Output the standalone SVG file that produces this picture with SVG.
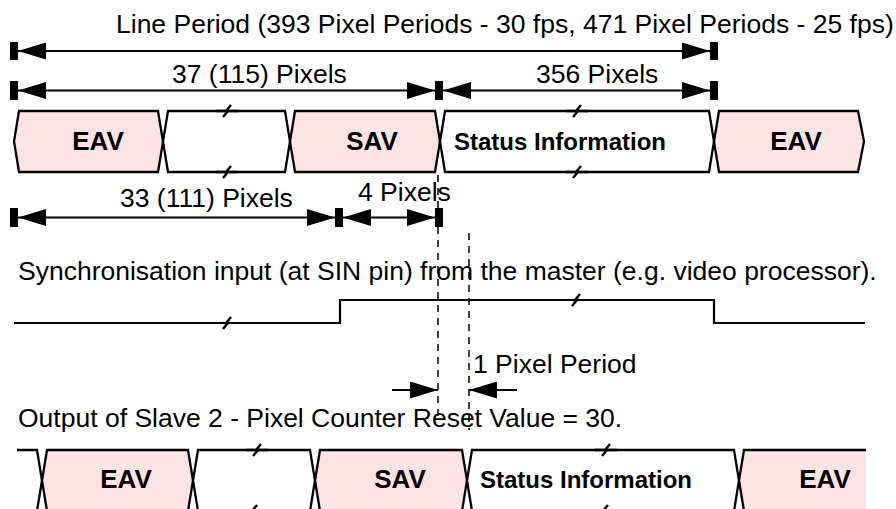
<svg xmlns="http://www.w3.org/2000/svg" width="896" height="509" viewBox="0 0 896 509">
<defs>
<style>
.t{font-family:"Liberation Sans",Arial,sans-serif;font-size:26.5px;fill:#000}
.b{font-family:"Liberation Sans",Arial,sans-serif;font-weight:bold;font-size:26px;fill:#000}
.bs{font-family:"Liberation Sans",Arial,sans-serif;font-weight:bold;font-size:24px;fill:#000}
.pk{fill:#fde4e4;stroke:#000;stroke-width:2.3;stroke-linejoin:miter}
.wh{fill:#fff;stroke:#000;stroke-width:2.3;stroke-linejoin:miter}
.ln{fill:none;stroke:#000;stroke-width:2.3}
.dim{fill:none;stroke:#000;stroke-width:2;marker-start:url(#ah);marker-end:url(#ah)}
.one{fill:none;stroke:#000;stroke-width:2;marker-end:url(#ah)}
.dash{fill:none;stroke:#000;stroke-width:1.5;stroke-dasharray:7 6}
.wave{fill:none;stroke:#000;stroke-width:2.2}
.brk{fill:none;stroke:#000;stroke-width:2.4;stroke-linejoin:miter}
.bar{fill:#000}
</style>
<marker id="ah" viewBox="0 0 28 17" refX="28" refY="8.5" markerWidth="28" markerHeight="17" markerUnits="userSpaceOnUse" orient="auto-start-reverse">
<path d="M0,0 L28,8.5 L0,17 Z" fill="#000"/>
</marker>
</defs>
<rect width="896" height="509" fill="#fff"/>

<g id="top-row">
<g id="top-eav1"><polygon class="pk" points="19,111 158,111 163,141.5 158,172 19,172 14,141.5"/><text class="b" x="98" y="150" text-anchor="middle">EAV</text></g>
<g id="top-blank"><polygon class="wh" points="168,111 285,111 290,141.5 285,172 168,172 163,141.5"/></g>
<g id="top-sav"><polygon class="pk" points="295,111 435,111 440,141.5 435,172 295,172 290,141.5"/><text class="b" x="372" y="150" text-anchor="middle">SAV</text></g>
<g id="top-status"><polygon class="wh" points="445,111 709,111 714,141.5 709,172 445,172 440,141.5"/><text class="bs" x="454" y="150">Status Information</text></g>
<g id="top-eav2"><polygon class="pk" points="719,111 858,111 864,141.5 858,172 719,172 714,141.5"/><text class="b" x="796" y="150" text-anchor="middle">EAV</text></g>
<g id="top-breaks">
<path class="brk" d="M216,111 H225 M223,117 L228,111 L226,111 L231,105 M229,111 H238"/>
<path class="brk" d="M216,172 H225 M223,178 L228,172 L226,172 L231,166 M229,172 H238"/>
<path class="brk" d="M566,111 H575 M573,117 L578,111 L576,111 L581,105 M579,111 H588"/>
<path class="brk" d="M566,172 H575 M573,178 L578,172 L576,172 L581,166 M579,172 H588"/>
</g>
</g>

<g id="bottom-row">
<g id="bot-stub"><path class="ln" d="M17,450 H37 L42,480.5 L37,511 H17"/></g>
<g id="bot-eav1"><polygon class="pk" points="47,450 188,450 193,480.5 188,511 47,511 42,480.5"/><text class="b" x="126" y="488" text-anchor="middle">EAV</text></g>
<g id="bot-blank"><polygon class="wh" points="198,450 310,450 315,480.5 310,511 198,511 193,480.5"/></g>
<g id="bot-sav"><polygon class="pk" points="320,450 462,450 467,480.5 462,511 320,511 315,480.5"/><text class="b" x="400" y="488" text-anchor="middle">SAV</text></g>
<g id="bot-status"><polygon class="wh" points="472,450 734,450 739,480.5 734,511 472,511 467,480.5"/><text class="bs" x="480" y="488">Status Information</text></g>
<g id="bot-eav2"><path d="M744,450 H866 V511 H744 L739,480.5 Z" fill="#fde4e4"/><path class="ln" d="M866,450 H744 L739,480.5 L744,511 H866"/><text class="b" x="825" y="488" text-anchor="middle">EAV</text></g>
<g id="bot-breaks">
<path class="brk" d="M246,450 H255 M253,456 L258,450 L256,450 L261,444 M259,450 H268"/>
<path class="brk" d="M242,511 H251 M249,517 L254,511 L252,511 L257,505 M255,511 H264"/>
<path class="brk" d="M595,450 H604 M602,456 L607,450 L605,450 L610,444 M608,450 H617"/>
<path class="brk" d="M593,511 H602 M600,517 L605,511 L603,511 L608,505 M606,511 H615"/>
</g>
</g>

<g id="labels">
<text class="t" x="116" y="33">Line Period (393 Pixel Periods - 30 fps, 471 Pixel Periods - 25 fps)</text>
<text class="t" x="172" y="83">37 (115) Pixels</text>
<text class="t" x="536" y="83">356 Pixels</text>
<text class="t" x="120" y="207">33 (111) Pixels</text>
<text class="t" x="358" y="201">4 Pixels</text>
<text class="t" x="18" y="280">Synchronisation input (at SIN pin) from the master (e.g. video processor).</text>
<text class="t" x="473" y="373">1 Pixel Period</text>
<text class="t" x="18" y="427">Output of Slave 2 - Pixel Counter Reset Value = 30.</text>
</g>

<g id="connectors">
<rect class="bar" x="10" y="42" width="8" height="18"/>
<rect class="bar" x="710" y="42" width="8" height="18"/>
<line class="dim" x1="18" y1="51" x2="710" y2="51"/>
<rect class="bar" x="10" y="81" width="8" height="19"/>
<rect class="bar" x="435" y="81" width="8" height="19"/>
<rect class="bar" x="710" y="81" width="8" height="19"/>
<line class="dim" x1="18" y1="90.5" x2="435" y2="90.5"/>
<line class="dim" x1="443" y1="90.5" x2="710" y2="90.5"/>
<rect class="bar" x="10" y="208" width="8" height="19"/>
<rect class="bar" x="335" y="208" width="8" height="19"/>
<rect class="bar" x="435" y="208" width="8" height="19"/>
<line class="dim" x1="18" y1="217.5" x2="335" y2="217.5"/>
<line class="dim" x1="343" y1="217.5" x2="435" y2="217.5"/>
<line class="dash" x1="438" y1="175" x2="438" y2="416"/>
<line class="dash" x1="469" y1="233" x2="469" y2="430"/>
<line class="one" x1="392" y1="390" x2="438" y2="390"/>
<line class="one" x1="517" y1="390" x2="469" y2="390"/>
<polyline class="wave" points="14,323 340,323 340,300 714,300 714,323 865,323"/>
<path class="brk" d="M223,329 L228,323 L226,323 L231,317"/>
<path class="brk" d="M572,306 L577,300 L575,300 L580,294"/>
</g>
</svg>
